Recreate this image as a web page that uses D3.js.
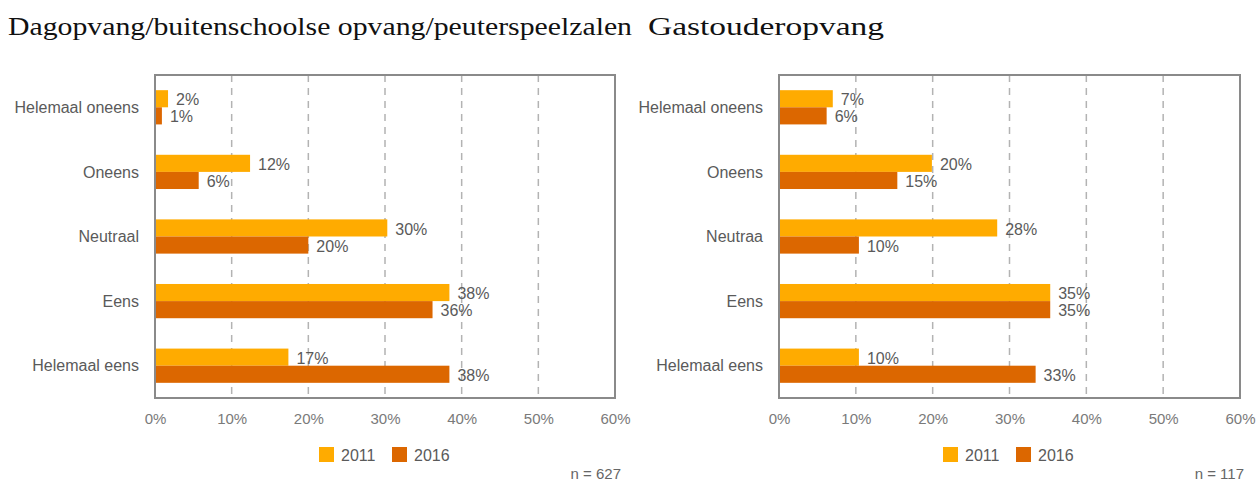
<!DOCTYPE html>
<style>
body { margin: 0; background: #fff; }
svg { font-family: "Liberation Sans", Arial, sans-serif; }
</style>
<svg width="1258" height="482"></svg>
<script src="https://cdn.jsdelivr.net/npm/d3@7"></script>
<script>

var categories = ["Helemaal oneens", "Oneens", "Neutraal", "Eens", "Helemaal eens"];
var categoriesGastouder = ["Helemaal oneens", "Oneens", "Neutraa", "Eens", "Helemaal eens"];
var years = ["2011", "2016"];

// Dagopvang/buitenschoolse opvang/peuterspeelzalen
var dag2011 = [1.7, 12.4, 30.3, 38.4, 17.4];
var dag2016 = [0.9, 5.7, 20.0, 36.2, 38.4];
// Gastouderopvang
var gast2011 = [7.0, 19.9, 28.4, 35.3, 10.4];
var gast2016 = [6.2, 15.4, 10.4, 35.3, 33.4];

var ticks = [0, 10, 20, 30, 40, 50, 60];

var svg = d3.select("svg");
var color = d3.scaleOrdinal().domain(years).range(["#FFAB00", "#DC6700"]);
var fmt = d3.format(".0f");

function drawPanel(opt) {
  var g = svg.append("g");

  var x = d3.scaleLinear().domain([0, 60]).range([opt.x0, opt.x1]);
  var y = d3.scaleBand().domain(opt.cats).range([75, 398]).paddingInner(0.47).paddingOuter(0.235);
  var y1 = d3.scaleBand().domain(years).range([0, y.bandwidth()]);

  // titel
  g.append("text")
      .attr("x", opt.tx)
      .attr("y", 35)
      .attr("fill", "#111")
      .attr("textLength", opt.tw)
      .attr("lengthAdjust", "spacingAndGlyphs")
      .style("font-family", "'Liberation Serif', Georgia, serif")
      .style("font-size", "25px")
      .text(opt.title);

  // rasterlijnen
  g.selectAll(".grid")
    .data(ticks.slice(1, -1))
    .enter().append("line")
      .attr("x1", function(d) { return x(d); })
      .attr("x2", function(d) { return x(d); })
      .attr("y1", 75)
      .attr("y2", 398)
      .attr("stroke", "#b3b3b3")
      .attr("stroke-width", 1.5)
      .attr("stroke-dasharray", "7,6");

  // balken
  var rows = opt.cats.map(function(c, i) {
    return { cat: c, vals: [opt.v2011[i], opt.v2016[i]] };
  });
  var grp = g.selectAll(".grp")
    .data(rows)
    .enter().append("g")
      .attr("transform", function(d) { return "translate(0," + y(d.cat) + ")"; });

  var bar = grp.selectAll("g")
    .data(function(d) { return d.vals.map(function(v, j) { return { year: years[j], v: v }; }); })
    .enter().append("g");

  bar.append("rect")
      .attr("x", x(0))
      .attr("y", function(d) { return y1(d.year); })
      .attr("width", function(d) { return x(d.v) - x(0); })
      .attr("height", y1.bandwidth())
      .attr("fill", function(d) { return color(d.year); });

  bar.append("text")
      .attr("x", function(d) { return x(d.v) + 8; })
      .attr("y", function(d) { return y1(d.year) + y1.bandwidth() / 2 + 1; })
      .attr("dy", "0.35em")
      .attr("fill", "#5a5a5a")
      .style("font-size", "16px")
      .text(function(d) { return fmt(d.v) + "%"; });

  // kader
  g.append("rect")
      .attr("x", x(0))
      .attr("y", 75)
      .attr("width", x(60) - x(0))
      .attr("height", 323)
      .attr("fill", "none")
      .attr("stroke", "#8a8a8a")
      .attr("stroke-width", 2);

  // categorie labels
  g.selectAll(".cat")
    .data(opt.cats)
    .enter().append("text")
      .attr("x", x(0) - 16)
      .attr("y", function(d) { return y(d) + y.bandwidth() / 2; })
      .attr("dy", "0.35em")
      .attr("text-anchor", "end")
      .attr("fill", "#5a5a5a")
      .style("font-size", "16px")
      .text(function(d) { return d; });

  // x-as
  var axis = g.append("g")
      .attr("transform", "translate(0,398)")
      .call(d3.axisBottom(x).tickValues(ticks).tickSize(0).tickPadding(15)
        .tickFormat(function(d) { return d + "%"; }));
  axis.select(".domain").remove();
  axis.selectAll("text")
      .attr("fill", "#7a7a7a")
      .style("font-size", "15px")
      .style("font-family", "'Liberation Sans', Arial, sans-serif");

  // legenda
  var leg = g.selectAll(".leg")
    .data(years)
    .enter().append("g")
      .attr("transform", function(d, i) { return "translate(" + (opt.lx + i * 73) + ",447)"; });
  leg.append("rect")
      .attr("width", 15)
      .attr("height", 15)
      .attr("fill", function(d) { return color(d); });
  leg.append("text")
      .attr("x", 22)
      .attr("y", 8)
      .attr("dy", "0.35em")
      .attr("fill", "#5a5a5a")
      .style("font-size", "16px")
      .text(function(d) { return d; });

  g.append("text")
      .attr("x", opt.nx)
      .attr("y", 474)
      .attr("dy", "0.35em")
      .attr("text-anchor", "end")
      .attr("fill", "#666")
      .style("font-size", "15px")
      .text("n = " + opt.n);
}

drawPanel({
  title: "Dagopvang/buitenschoolse opvang/peuterspeelzalen", tx: 8, tw: 624,
  cats: categories, v2011: dag2011, v2016: dag2016,
  x0: 155, x1: 615, lx: 319, nx: 621, n: 627
});

drawPanel({
  title: "Gastouderopvang", tx: 648, tw: 236,
  cats: categoriesGastouder, v2011: gast2011, v2016: gast2016,
  x0: 779, x1: 1240, lx: 943, nx: 1244, n: 117
});

</script>
